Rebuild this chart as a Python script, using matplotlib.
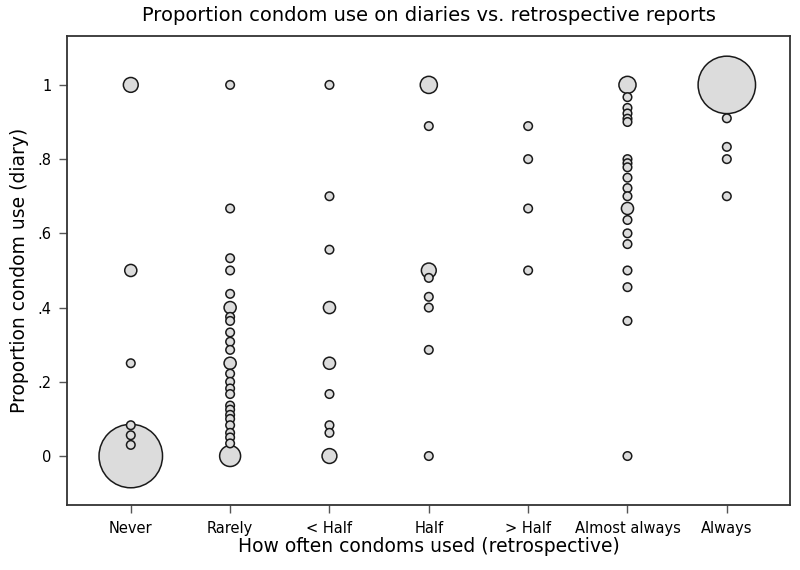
#!/usr/bin/python3

import matplotlib
matplotlib.use("Agg")
import matplotlib.pyplot as plt


categories = ["Never", "Rarely", "< Half", "Half", "> Half", "Almost always", "Always"]

# proportion of condom use on diaries, one list per retrospective category
never_y = [0.0, 1.0, 0.5, 0.25, 0.083, 0.056, 0.030]
never_n = [55, 3, 2, 1, 1, 1, 1]

rarely_y = [0.0, 1.0, 0.667, 0.533, 0.5, 0.437, 0.4, 0.375, 0.364, 0.333, 0.308,
            0.286, 0.25, 0.222, 0.2, 0.182, 0.167, 0.136, 0.125, 0.111, 0.1,
            0.083, 0.0625, 0.05, 0.034]
rarely_n = [6, 1, 1, 1, 1, 1, 2, 1, 1, 1, 1,
            1, 2, 1, 1, 1, 1, 1, 1, 1, 1,
            1, 1, 1, 1]

lthalf_y = [0.0, 1.0, 0.7, 0.556, 0.4, 0.25, 0.167, 0.083, 0.0625]
lthalf_n = [3, 1, 1, 1, 2, 2, 1, 1, 1]

half_y = [1.0, 0.5, 0.889, 0.48, 0.429, 0.4, 0.286, 0.0]
half_n = [4, 3, 1, 1, 1, 1, 1, 1]

gthalf_y = [0.889, 0.8, 0.667, 0.5]
gthalf_n = [1, 1, 1, 1]

almost_y = [1.0, 0.667, 0.967, 0.938, 0.923, 0.909, 0.9, 0.8, 0.789, 0.778, 0.75,
            0.722, 0.7, 0.636, 0.6, 0.571, 0.5, 0.455, 0.364, 0.0]
almost_n = [4, 2, 1, 1, 1, 1, 1, 1, 1, 1, 1,
            1, 1, 1, 1, 1, 1, 1, 1, 1]

always_y = [1.0, 0.91, 0.833, 0.8, 0.7]
always_n = [45, 1, 1, 1, 1]

y_ticks = [0, 0.2, 0.4, 0.6, 0.8, 1]
y_tick_labels = ["0", ".2", ".4", ".6", ".8", "1"]


def main():
    plt.rcParams['font.family'] = ['Liberation Sans Narrow', 'DejaVu Sans']

    fig = plt.figure(figsize=(8, 5.7), dpi=100)
    ax = fig.add_axes([0.084, 0.114, 0.904, 0.823])

    columns = [never_y, rarely_y, lthalf_y, half_y, gthalf_y, almost_y, always_y]
    counts = [never_n, rarely_n, lthalf_n, half_n, gthalf_n, almost_n, always_n]

    base = 38  # marker area (pt^2) for a single observation
    for i, (ys, ns) in enumerate(zip(columns, counts)):
        pts = sorted(zip(ys, ns), key=lambda p: -p[1])
        ax.scatter([i + 1] * len(pts), [p[0] for p in pts],
                   s=[base * p[1] for p in pts],
                   facecolor="#dcdcdc", edgecolor="#1a1a1a",
                   linewidth=1.1, zorder=3)

    ax.set_xlim(0.36, 7.64)
    ax.set_ylim(-0.132, 1.132)
    ax.set_xticks(range(1, 8))
    ax.set_xticklabels(categories, fontsize=10.5)
    ax.set_yticks(y_ticks)
    ax.set_yticklabels(y_tick_labels, fontsize=10.5)
    ax.tick_params(length=5.5, width=1, color="#555555", pad=6)

    for sp in ax.spines.values():
        sp.set_linewidth(1.3)
        sp.set_color("#333333")

    ax.set_title("Proportion condom use on diaries vs. retrospective reports",
                 fontsize=14, pad=11)
    ax.set_xlabel("How often condoms used (retrospective)", fontsize=13.5, labelpad=1)
    ax.set_ylabel("Proportion condom use (diary)", fontsize=13.5, labelpad=6)

    fig.savefig("out.png", dpi=100)


if __name__ == '__main__':
    main()
